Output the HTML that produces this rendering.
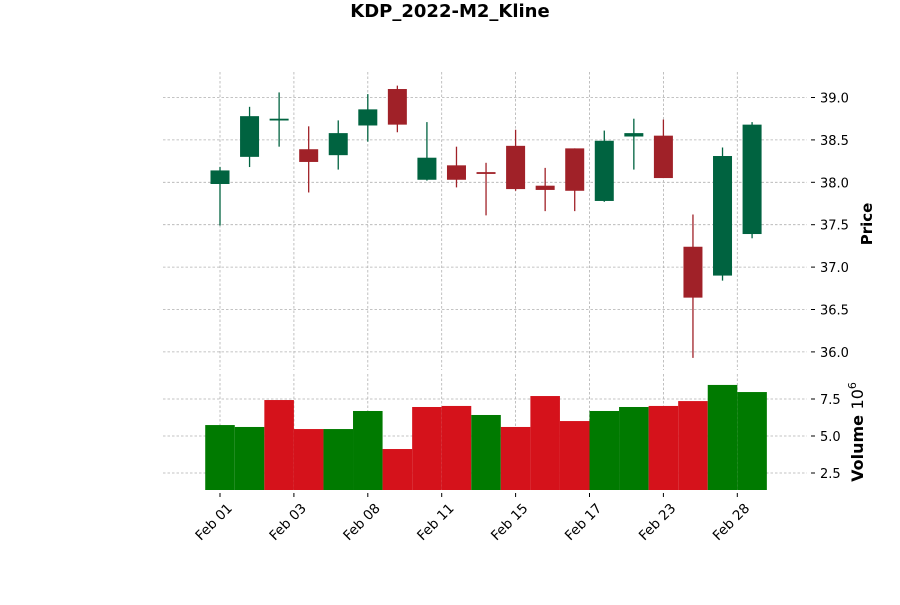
<!DOCTYPE html>
<html><head><meta charset="utf-8"><style>
body{margin:0;background:#fff;}
svg text{font-family:"DejaVu Sans","Liberation Sans",sans-serif;}
</style></head><body>
<svg id="chart" width="900" height="600" viewBox="0 0 900 600" xmlns="http://www.w3.org/2000/svg">
<text x="450" y="17" text-anchor="middle" font-size="18" font-weight="bold">KDP_2022-M2_Kline</text>
<g id="grid"></g><g id="marks"></g><g id="axes"></g>
<text transform="translate(872,224) rotate(-90)" text-anchor="middle" font-size="15" font-weight="bold">Price</text>
<text transform="translate(863,432) rotate(-90)" text-anchor="middle" font-size="16" font-weight="bold">Volume  <tspan font-weight="normal">10</tspan><tspan dy="-7" font-size="11" font-weight="normal">6</tspan></text>
</svg>
<script>
const opens  = [37.98,38.30,38.75,38.39,38.32,38.67,39.10,38.03,38.20,38.12,38.43,37.96,38.40,37.78,38.54,38.55,37.24,36.90,37.39];
const closes = [38.14,38.78,38.75,38.24,38.58,38.86,38.68,38.29,38.03,38.11,37.92,37.91,37.90,38.49,38.58,38.05,36.64,38.31,38.68];
const highs  = [38.18,38.89,39.06,38.66,38.73,39.04,39.14,38.71,38.42,38.23,38.62,38.17,38.40,38.61,38.75,38.74,37.62,38.41,38.71];
const lows   = [37.49,38.18,38.42,37.88,38.15,38.48,38.59,38.02,37.94,37.61,37.90,37.66,37.66,37.77,38.15,38.05,35.93,36.84,37.34];
const volumes= [5.74,5.61,7.43,5.47,5.47,6.69,4.12,6.96,7.03,6.42,5.61,7.70,6.01,6.69,6.96,7.03,7.36,8.45,7.97];
const priceTicks=[36.0,36.5,37.0,37.5,38.0,38.5,39.0];
const volTicks=[2.5,5.0,7.5];
const dateLabels=["Feb 01","Feb 03","Feb 08","Feb 11","Feb 15","Feb 17","Feb 23","Feb 28"];
const dateIdx=[0,2.5,5,7.5,10,12.5,15,17.5];

const NS="http://www.w3.org/2000/svg";
const step=29.56, x0=220, L=163, R=807;
const X=i=>x0+i*step;
const Yp=v=>97.5+(39-v)*84.8;
const Yv=v=>436-(v-5)*14.8;
const VB=490;
function mk(p,tag,a){const e=document.createElementNS(NS,tag);for(const k in a)e.setAttribute(k,a[k]);p.appendChild(e);return e;}
const grid=document.getElementById('grid'),marks=document.getElementById('marks'),axes=document.getElementById('axes');
const gs={stroke:'#b0b0b0','stroke-width':0.8,'stroke-dasharray':'2.5,2'};
priceTicks.forEach(t=>{
 const y=Yp(t);
 const g=mk(grid,'line',Object.assign({x1:L,x2:R,y1:y,y2:y},gs));
 
 
 mk(axes,'line',{x1:811,x2:815,y1:y,y2:y,stroke:'#000'});
 const tx=mk(axes,'text',{x:820,y:y+5,'font-size':13});tx.textContent=t.toFixed(1);
 
 
});
volTicks.forEach(t=>{
 const y=Yv(t);
 const g=mk(grid,'line',Object.assign({x1:L,x2:R,y1:y,y2:y},gs));
 
 
 mk(axes,'line',{x1:811,x2:815,y1:y,y2:y,stroke:'#000'});
 const tx=mk(axes,'text',{x:820,y:y+5,'font-size':13});tx.textContent=t.toFixed(1);
 
 
});
dateIdx.forEach((d,k)=>{
 const x=X(d);
 const g1=mk(grid,'line',Object.assign({x1:x,x2:x,y1:72,y2:370},gs));
 
 
 const g2=mk(grid,'line',Object.assign({x1:x,x2:x,y1:374,y2:490},gs));
 
 
 mk(axes,'line',{x1:x,x2:x,y1:493,y2:497,stroke:'#000'});
 const tx=mk(axes,'text',{transform:`translate(${x+13},${509}) rotate(-45)`,'text-anchor':'end','font-size':13.5});
 tx.textContent=dateLabels[k];
 
 
});
const bw=19;
for(let i=0;i<opens.length;i++){
 const up=closes[i]>=opens[i];
 const c=up?'#006340':'#a02128';
 const x=X(i);
 const w=mk(marks,'line',{x1:x,x2:x,y1:Yp(highs[i]),y2:Yp(lows[i]),stroke:c,'stroke-width':1.3});
 
 
 const top=Yp(Math.max(opens[i],closes[i])),bot=Yp(Math.min(opens[i],closes[i]));
 const b=mk(marks,'rect',{x:x-bw/2,y:top,width:bw,height:Math.max(bot-top,1.8),fill:c});
 
 
 const vup=i===0?up:closes[i]>closes[i-1];
 const v=mk(marks,'rect',{x:x-step/2,y:Yv(volumes[i]),width:step,height:VB-Yv(volumes[i]),fill:vup?'#007a00':'#d5121b'});
 
 
}
</script>
</body></html>
